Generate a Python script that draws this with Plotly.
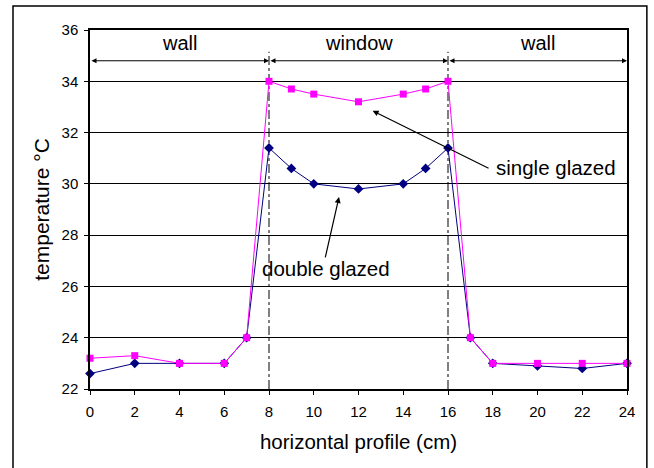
import plotly.graph_objects as go

x_pos = [0, 2, 4, 6, 7, 8, 9, 10, 12, 14, 15, 16, 17, 18, 20, 22, 24]
double_glazed = [22.6, 23.0, 23.0, 23.0, 24.0, 31.4, 30.6, 30.0, 29.8, 30.0, 30.6, 31.4, 24.0, 23.0, 22.9, 22.8, 23.0]
single_glazed = [23.2, 23.3, 23.0, 23.0, 24.0, 34.0, 33.7, 33.5, 33.2, 33.5, 33.7, 34.0, 24.0, 23.0, 23.0, 23.0, 23.0]

zone_bounds = [0, 8, 16, 24]
zone_labels = ["wall", "window", "wall"]
x_ticks = list(range(0, 25, 2))
y_ticks = list(range(22, 37, 2))

FONT = "Liberation Sans, Arial, sans-serif"

fig = go.Figure()
fig.add_trace(go.Scatter(x=x_pos, y=double_glazed, mode="lines+markers", name="double glazed",
                         line=dict(color="#000080", width=1), cliponaxis=False,
                         marker=dict(symbol="diamond", size=7.5, color="#000080")))
fig.add_trace(go.Scatter(x=x_pos, y=single_glazed, mode="lines+markers", name="single glazed",
                         line=dict(color="#FF00FF", width=1), cliponaxis=False,
                         marker=dict(symbol="square", size=7, color="#FF00FF")))

shapes = []
shapes.append(dict(type="line", xref="x", yref="y", x0=8, x1=8, y0=22, y1=35.15,
                   line=dict(color="black", width=1, dash="dashdot"), layer="below"))
shapes.append(dict(type="line", xref="x", yref="y", x0=16, x1=16, y0=22, y1=35.15,
                   line=dict(color="#555555", width=1.5, dash="dashdot"), layer="below"))
shapes.append(dict(type="rect", xref="paper", yref="paper", x0=-0.1434, x1=1.037, y0=-0.3, y1=1.0669,
                   line=dict(color="black", width=1.5)))

annotations = []
arrow_y = 34.8
for i in range(3):
    a, b = zone_bounds[i], zone_bounds[i + 1]
    annotations.append(dict(x=b, y=arrow_y, ax=a, ay=arrow_y, xref="x", yref="y", axref="x", ayref="y",
                            text="", showarrow=True, arrowhead=2, startarrowhead=2, arrowside="end+start",
                            arrowsize=1, arrowwidth=1, arrowcolor="black", standoff=0, startstandoff=0))
    annotations.append(dict(x=(a + b) / 2, y=35.5, xref="x", yref="y", text=zone_labels[i], showarrow=False,
                            font=dict(family=FONT, size=20, color="black")))

annotations.append(dict(x=12.63, y=32.85, ax=17.88, ay=30.58, xref="x", yref="y", axref="x", ayref="y",
                        text="", showarrow=True, arrowhead=2, arrowsize=1, arrowwidth=1.2, arrowcolor="black"))
annotations.append(dict(x=18.06, y=30.62, xref="x", yref="y", text="single glazed", showarrow=False,
                        xanchor="left", font=dict(family=FONT, size=20.5, color="black")))
annotations.append(dict(x=11.13, y=29.49, ax=10.50, ay=27.07, xref="x", yref="y", axref="x", ayref="y",
                        text="", showarrow=True, arrowhead=2, arrowsize=1, arrowwidth=1.2, arrowcolor="black"))
annotations.append(dict(x=10.55, y=26.68, xref="x", yref="y", text="double glazed", showarrow=False,
                        font=dict(family=FONT, size=20.5, color="black")))

fig.update_layout(
    width=654, height=468,
    margin=dict(l=90, r=27, t=30, b=79),
    paper_bgcolor="white", plot_bgcolor="white",
    showlegend=False,
    font=dict(family=FONT, size=15, color="black"),
    shapes=shapes, annotations=annotations,
    xaxis=dict(range=[0, 24], tickvals=x_ticks, ticks="outside", ticklen=4, tickcolor="black",
               showgrid=False, zeroline=False, showline=True, linecolor="black", linewidth=1.5, mirror=True,
               tickfont=dict(size=15), ticklabelstandoff=4,
               title=dict(text="horizontal profile (cm)", font=dict(size=20.5), standoff=16)),
    yaxis=dict(range=[22, 36], tickvals=y_ticks, ticks="outside", ticklen=4, tickcolor="black",
               showgrid=True, gridcolor="black", gridwidth=1, zeroline=False,
               showline=True, linecolor="black", linewidth=1.5, mirror=True,
               tickfont=dict(size=15), ticklabelstandoff=3,
               title=dict(text="temperature °C", font=dict(size=21), standoff=6)),
)

fig.write_html("out.html", config={"displayModeBar": False},
               post_script="document.body.style.margin='0';document.body.style.overflow='hidden';")
